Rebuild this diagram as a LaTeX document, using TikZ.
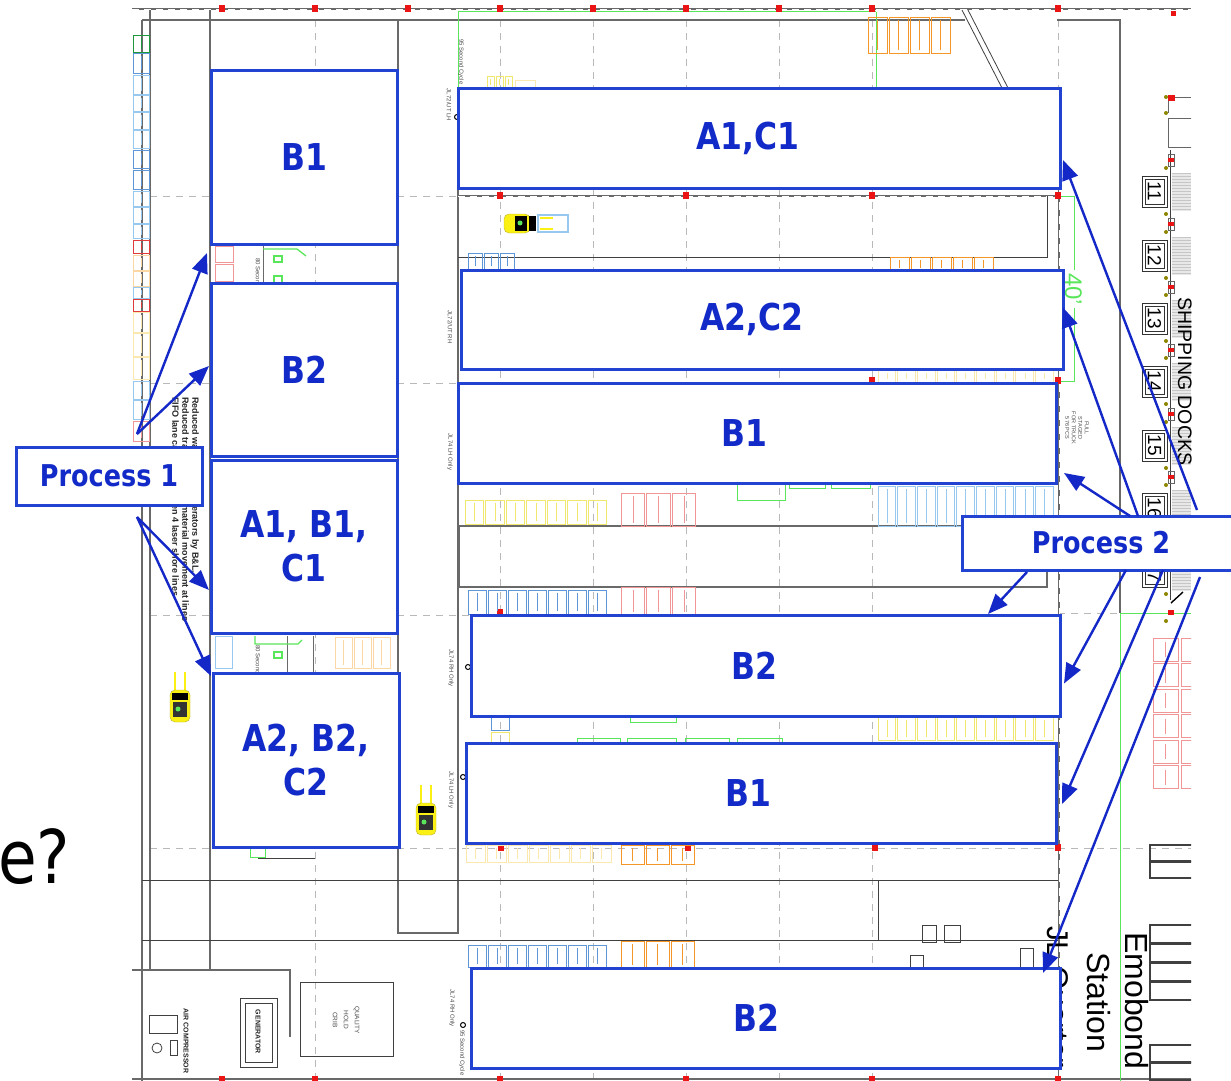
\documentclass[tikz,border=0pt]{standalone}
\usepackage{fontspec}
\setmainfont{Liberation Sans}
\newfontfamily\lab{DejaVu Sans}[FakeStretch=0.85]
\usetikzlibrary{arrows.meta,calc}
\definecolor{boxc}{RGB}{34,66,210}
\definecolor{txtc}{RGB}{18,42,200}
\definecolor{arrc}{RGB}{20,40,200}
\definecolor{pgray}{RGB}{105,105,105}
\definecolor{gridc}{RGB}{185,185,185}
\definecolor{pgreen}{RGB}{90,230,90}
\definecolor{dgreen}{RGB}{30,150,60}
\definecolor{lblue}{RGB}{150,200,240}
\definecolor{mblue}{RGB}{95,150,215}
\definecolor{lyel}{RGB}{240,232,110}
\definecolor{pyel}{RGB}{250,232,175}
\definecolor{lred}{RGB}{240,150,150}
\definecolor{rred}{RGB}{225,60,60}
\definecolor{porange}{RGB}{245,150,40}
\definecolor{lorange}{RGB}{250,215,165}
\definecolor{fyel}{RGB}{250,240,20}
\definecolor{mred}{RGB}{235,20,20}
\newcommand\rackrow[6]{\foreach \ri in {1,...,#6}{%
  \draw[line width=0.9pt,draw=#1] ({#2+(\ri-1)*#4},#3) rectangle ++({#4-2},#5);
  \draw[line width=0.5pt,draw=#1] ({#2+(\ri-1)*#4+#4/2-1},{#3+3}) -- ++(0,{#5-6});}}
\newcommand\forkv[2]{%
  \draw[fyel,line width=1.5pt] ({#1+5},#2) -- ++(0,20) ({#1+15},#2) -- ++(0,20);
  \draw[fill=fyel,draw=yellow!70!black,rounded corners=5pt] ({#1},{#2+18}) rectangle ({#1+20},{#2+50});
  \fill[black] ({#1+2},{#2+21}) rectangle ({#1+18},{#2+28});
  \fill[black!80] ({#1+3},{#2+30}) rectangle ({#1+17},{#2+45});
  \fill[pgreen] ({#1+8},{#2+37}) circle (2.5);}
\begin{document}
\begin{tikzpicture}[x=1pt,y=-1pt,
  zone/.style={draw=boxc,line width=3pt,fill=white,text=txtc,outer sep=0pt,
    font=\lab\bfseries\fontsize{37}{44}\selectfont,align=center,inner sep=0pt},
  proc/.style={zone,font=\lab\bfseries\fontsize{30}{36}\selectfont},
  flow/.style={draw=arrc,line width=2.4pt,-{Triangle[length=20pt,width=16pt]}},
  wall/.style={draw=pgray,line width=1.5pt},
  fine/.style={draw=black!75,line width=0.8pt},
  grd/.style={draw=gridc,line width=1pt,dash pattern=on 7pt off 6pt},
  rk/.style={line width=0.9pt},
  tiny/.style={font=\fontsize{6}{7}\selectfont,text=black!70,inner sep=0pt,rotate=-90},
  smallb/.style={font=\bfseries\fontsize{7}{8}\selectfont,text=black!85,inner sep=0pt,rotate=-90},
  rtext/.style={font=\fontsize{32}{36}\selectfont,inner sep=0pt,rotate=-90,anchor=base west},
]
\useasboundingbox (0,0) rectangle (1231,1081);
\fill[white] (0,0) rectangle (1231,1081);
\begin{scope}
\clip (0,0) rectangle (1191,1081);
% grid
\foreach \y in {196,383,615,848} \draw[grd] (150,\y) -- (1058,\y);
\draw[grd] (1058,613) -- (1191,613);
\draw[grd] (1058,848) -- (1191,848);
\foreach \x in {315,500,593,686,779,872} \draw[grd] (\x,20) -- (\x,1079);
\draw[grd] (1058,20) -- (1058,188);
% top walls
\draw[draw=pgray,line width=2.4pt] (132,9) -- (1191,9);
\draw[draw=white,line width=0.8pt,dash pattern=on 7pt off 5pt] (132,9) -- (1191,9);
\draw[wall] (142,20) -- (965,20);
\draw[wall] (1057,20) -- (1120,20) -- (1120,613);
\draw[fine] (962,10) -- (1002,88);
\draw[fine] (968,10) -- (1008,88);
% left walls
\draw[wall] (142,20) -- (142,1081);
\draw[wall] (150,10) -- (150,970);
\draw[wall] (210,10) -- (210,970);
\draw[wall] (398,20) -- (398,933) -- (458,933) -- (458,188);
\draw[fine] (142,880) -- (1058,880);
\draw[fine] (142,940) -- (1058,940);
\draw[fine] (878,880) -- (878,940);
\draw[draw=pgray,line width=2.6pt] (132,970) -- (290,970) -- (290,1037);
\draw[wall] (132,1079) -- (1191,1079);
% middle structure
\draw[draw=pgray,line width=2.4pt] (458,196) -- (1058,196);
\draw[draw=white,line width=0.8pt,dash pattern=on 7pt off 5pt] (458,196) -- (1058,196);
\draw[fine] (458,257) -- (1047,257) -- (1047,196);
\draw[draw=pgray,line width=1.6pt] (459,526) rectangle (1047,587);
\draw[draw=pgray,line width=2.6pt] (1059,188) -- (1059,1081);
\draw[draw=white,line width=0.8pt,dash pattern=on 8pt off 6pt] (1059,188) -- (1059,1081);
% green lines
\draw[pgreen,line width=1pt] (458,12) -- (876,12);
\draw[pgreen,line width=1pt] (458,12) -- (458,88);
\draw[pgreen,line width=1pt] (876,12) -- (876,88);
\draw[pgreen,line width=1pt] (1058,196) -- (1074,196) -- (1074,270);
\draw[pgreen,line width=1pt] (1074,308) -- (1074,381) -- (1058,381);
\node[font=\fontsize{24}{26}\selectfont,text=pgreen,inner sep=0pt,rotate=-90,anchor=base west] (forty) at (1065,273) {40'};
\draw[pgreen,line width=1pt] (1120,613) -- (1120,1081);
\draw[pgreen,line width=1pt] (1120,613) -- (1191,613);
% red markers
\foreach \x in {222,315,408,500,593,686,779,872,1058} \fill[mred] (\x-3,5) rectangle (\x+3,12);
\fill[mred] (1171,11) rectangle (1176,16);
\foreach \x/\y in {500/196,686/196,872/196,1058/196,872/381,1058/381,501/848,688/848,875/848,500/613,1058/848}
  \fill[mred] (\x-3,\y-4) rectangle (\x+3,\y+3);
\foreach \x in {222,315,500,686,872,1058} \fill[mred] (\x-3,1076) rectangle (\x+3,1081);
% left strip racks
\foreach \ya/\yb/\cc in {35/52/dgreen,53/73/mblue,75/94/lblue,95/111/lblue,112/129/lblue,130/148/lblue,150/168/mblue,170/189/mblue,191/206/lblue,207/223/lblue,224/238/lblue,240/253/rred,255/270/lorange,271/286/lorange,287/298/lblue,299/311/rred,312/332/pyel,333/356/pyel,357/379/pyel,381/399/lblue,400/419/lblue,421/441/lred}
  {\draw[rk,draw=\cc] (133,\ya) rectangle (149,\yb);
   \draw[draw=\cc,line width=0.6pt] (141,{\ya+3}) -- (141,{\yb-3});}
% racks in the plan
\rackrow{porange}{868}{17}{21}{36}{4}
\rackrow{porange}{890}{257}{21}{14}{5}
\rackrow{lyel}{487}{76}{9}{12}{3}
\draw[rk,draw=pyel] (515,80) rectangle (535,88);
\rackrow{mblue}{468}{253}{16}{16}{3}
\rackrow{pyel}{878}{370}{19.7}{12}{9}
\rackrow{lyel}{465}{500}{20.5}{24}{7}
\rackrow{lred}{621}{493}{25.5}{33}{3}
\draw[rk,draw=pgreen] (737,484) rectangle (785,500);
\draw[rk,draw=pgreen] (789,483) rectangle (825,488);
\draw[rk,draw=pgreen] (831,483) rectangle (870,488);
\rackrow{lblue}{878}{486}{19.7}{40}{9}
\rackrow{mblue}{468}{590}{20}{24}{7}
\rackrow{lred}{621}{587}{25.5}{28}{3}
\rackrow{lyel}{878}{717}{19.7}{23}{9}
\draw[rk,draw=pgreen] (630,716) rectangle (676,722);
\foreach \xa/\xb in {577/620,627/676,685/729,737/782} \draw[rk,draw=pgreen] (\xa,738) rectangle (\xb,746);
\draw[rk,draw=mblue] (491,716) rectangle (509,730);
\draw[rk,draw=lyel] (491,732) rectangle (509,742);
\rackrow{pyel}{466}{845}{21}{17}{7}
\rackrow{porange}{621}{845}{25}{19}{3}
\rackrow{mblue}{468}{945}{20}{22}{7}
\rackrow{porange}{621}{941}{25}{27}{3}
\foreach \k in {0,...,5} {
  \draw[rk,draw=lred] (1153,{638+25.5*\k}) rectangle (1178,{661+25.5*\k});
  \draw[rk,draw=lred] (1181,{638+25.5*\k}) rectangle (1206,{661+25.5*\k});
  \draw[draw=lred,line width=0.6pt] (1165,{642+25.5*\k}) -- (1165,{657+25.5*\k});}
% items near the left boxes
\draw[rk,draw=lred] (215,246) rectangle (233,262);
\draw[rk,draw=lred] (215,264) rectangle (233,281);
\draw[draw=pgray,line width=1pt] (263,244) -- (263,283);
\draw[pgreen,line width=1.3pt] (263,249) -- (297,249) -- (306,256);
\draw[pgreen,line width=1.6pt] (274,256) rectangle (282,262);
\draw[pgreen,line width=1.6pt] (274,276) rectangle (282,283);
\draw[rk,draw=lblue] (215,636) rectangle (232,668);
\draw[draw=pgray,line width=1pt] (287,636) -- (287,673);
\draw[draw=pgray,line width=1pt] (313,636) -- (313,673);
\draw[pgreen,line width=1.3pt] (255,636) -- (255,644) -- (298,644) -- (302,640);
\draw[pgreen,line width=1.6pt] (274,652) rectangle (282,658);
\rackrow{lorange}{335}{637}{19}{31}{3}
\draw[pgreen,line width=1pt] (250,848) rectangle (265,857);
\draw[fine] (258,858) -- (315,858);
% small circles
\foreach \x/\y in {457/117,468/667,463/777,463/1025} \draw[black,line width=1pt] (\x,\y) circle (2.5);
% small boxes lower right
\draw[fine,line width=1pt] (922,925) rectangle (936,942);
\draw[fine,line width=1pt] (944,925) rectangle (960,942);
\draw[fine] (910,955) rectangle (923,968);
\draw[fine] (1020,948) rectangle (1033,968);
\foreach \ya in {845,862} \draw[fine,line width=1.3pt] (1150,\ya) rectangle (1196,{\ya+16});
\foreach \ya in {925,944,963,982} \draw[fine,line width=1.3pt] (1150,\ya) rectangle (1196,{\ya+18});
\foreach \ya in {1045,1063} \draw[fine,line width=1.3pt] (1150,\ya) rectangle (1196,{\ya+17});
% docks
\draw[fine] (1170,150) -- (1170,600);
\draw[black!60,line width=0.8pt] (1175,97) -- (1191,97);
\draw[black!60,line width=0.8pt] (1168,97) -- (1168,113);
\fill[mred] (1168,95) rectangle (1175,101);
\draw[black!60,line width=0.8pt] (1168,118) rectangle (1195,147);
\fill[olive] (1166,97) circle (2);
\fill[olive] (1166,113) circle (2);
\foreach \y/\n in {176/11,240/12,303/13,366/14,430/15,493/16,556/17} {
  \fill[gray!18] (1172,{\y-3}) rectangle (1191,{\y+35});
  \foreach \h in {0,3,...,36} \draw[gray!45,line width=0.4pt] (1172,{\y-3+\h}) -- (1191,{\y-3+\h});
  \draw[black!80,line width=1pt] (1142,\y) rectangle (1167,{\y+31});
  \draw[black!80,line width=0.8pt] (1145,{\y+3}) rectangle (1164,{\y+28});
  \node[rotate=-90,font=\fontsize{19}{20}\selectfont,inner sep=0pt] (dock\n) at (1154.5,{\y+15.5}) {\n};
  \fill[olive] (1166,{\y-8}) circle (2);
  \fill[olive] (1166,{\y+38}) circle (2);
  \draw[black!60,line width=0.8pt] (1168,{\y-22}) rectangle (1174,{\y-10});
  \fill[mred] (1168,{\y-18}) rectangle (1174,{\y-14});}
\draw[black,line width=1.4pt] (1171,603) -- (1183,592);
\fill[mred] (1168,610) rectangle (1174,615);
\fill[olive] (1166,621) circle (2);
\node[font=\fontsize{19.5}{21}\selectfont,inner sep=0pt,rotate=-90,anchor=base west] (ship) at (1178,297) {SHIPPING DOCKS};
% bottom left rooms
\draw[fine] (149,1015) rectangle (177,1033);
\draw[fine] (157,1048) circle (5);
\draw[fine] (170,1040) rectangle (177,1055);
\node[smallb] (aircomp) at (186,1041) {AIR COMPRESSOR};
\draw[fine] (240,998) rectangle (277,1067);
\draw[fine,line width=1pt] (245,1003) rectangle (272,1062);
\node[smallb] (gen) at (258,1032) {GENERATOR};
\draw[fine] (300,982) rectangle (393,1056);
\node[tiny,align=center,font=\fontsize{6.5}{11}\selectfont] (crib) at (346,1020) {QUALITY\\HOLD\\CRIB};
% forklifts
\draw[fill=fyel,draw=yellow!70!black,rounded corners=5pt] (504,214) rectangle (530,233);
\fill[black] (515,216) rectangle (527,231);
\fill[pgreen] (520,223) circle (2.5);
\fill[black] (529,216) rectangle (536,231);
\draw[lblue,line width=1.2pt] (538,215) rectangle (568,232);
\fill[fyel] (540,217) rectangle (553,219);
\fill[fyel] (540,228) rectangle (553,230);
\forkv{170}{672}
\forkv{416}{785}
% small plan labels
\node[tiny] (l1) at (461,62) {95 Second Cycle};
\node[tiny] (l2) at (449,105) {JL72/UT LH};
\node[tiny] (l3) at (450,327) {JL72/UT RH};
\node[tiny] (l4) at (450,452) {JL74 LH Only};
\node[tiny] (l5) at (451,668) {JL74 RH Only};
\node[tiny] (l6) at (451,790) {JL74 LH Only};
\node[tiny] (l7) at (452,1008) {JL74 RH Only};
\node[tiny,anchor=west] (l8) at (462,1030) {95 Second Cycle};
\node[tiny,anchor=west] (l9) at (258,258) {80 Second};
\node[tiny,anchor=west] (l10) at (258,645) {80 Second};
\node[tiny,align=center,font=\fontsize{5.5}{6.5}\selectfont] (full) at (1077,428) {FULL\\STAGED\\FOR TRUCK\\576 PCS};
\node[rotate=-90,anchor=north west,align=left,inner sep=0pt,font=\bfseries\fontsize{9}{10}\selectfont,text=black!85] (notes) at (199,397)
  {Reduced walk time for operators by B\&L.\\Reduced travel for direct material movement at lines\\FIFO lane capacity between 4 laser shore lines};
\node[rtext,font=\fontsize{30}{34}\selectfont] (jlq) at (1047,926) {JL Quarter};
\node[rtext] (stat) at (1087,952) {Station};
\node[rtext] (emob) at (1125,932) {Emobond};
\end{scope}
% zone boxes
\node[zone,minimum width=186pt,minimum height=173pt] (b1l) at (304,157.5) {B1};
\node[zone,minimum width=186pt,minimum height=173pt] (b2l) at (304,369.5) {B2};
\node[zone,minimum width=186pt,minimum height=173pt] (abc1) at (304,546.5) {A1, B1,\\C1};
\node[zone,minimum width=186pt,minimum height=174pt] (abc2) at (306,760) {A2, B2,\\C2};
\node[proc,minimum width=186pt,minimum height=58pt] (p1) at (109,476) {Process 1};
\node[zone,minimum width=602pt,minimum height=100pt] (ac1) at (759,138) {A1,C1\hspace*{22pt}};
\node[zone,minimum width=602pt,minimum height=99pt] (ac2) at (762,319.5) {A2,C2\hspace*{20pt}};
\node[zone,minimum width=598pt,minimum height=100pt] (b1m) at (757,433) {B1\hspace*{26pt}};
\node[zone,minimum width=589pt,minimum height=101pt] (b2m) at (765.5,665.5) {B2\hspace*{22pt}};
\node[zone,minimum width=590pt,minimum height=100pt] (b1n) at (761,793) {B1\hspace*{26pt}};
\node[zone,minimum width=589pt,minimum height=100pt] (b2n) at (765.5,1018) {B2\hspace*{18pt}};
\node[proc,minimum width=288pt,minimum height=54pt] (p2) at (1106,543) {Process 2\hspace*{10pt}};
% connectors
\draw[flow] ($(p1.north west)+(121,-13)$) -- ($(b1l.south west)+(-4,9)$);
\draw[flow] ($(p1.north west)+(121,-13)$) -- ($(b2l.west)+(-2,-3.5)$);
\draw[flow] ($(p1.south west)+(121,12)$) -- ($(abc1.south west)+(-2,-43)$);
\draw[flow] ($(p1.south west)+(121,12)$) -- ($(abc2.north west)+(-2,3)$);
\draw[flow] ($(p2.north west)+(235,-6)$) -- ($(ac1.east)+(3,22)$);
\draw[flow] ($(p2.north west)+(176,0)$) -- ($(ac2.east)+(0,-12)$);
\draw[flow] ($(p2.north west)+(168,0)$) -- ($(b1m.south east)+(8,-10)$);
\draw[flow] ($(p2.south west)+(65,2)$) -- ($(b2m.north east)+(-72,-1)$);
\draw[flow] ($(p2.south west)+(164,0)$) -- ($(b2m.east)+(4,18)$);
\draw[flow] ($(p2.south west)+(201,0)$) -- ($(b1n.east)+(6,11)$);
\draw[flow] ($(p2.south west)+(238,7)$) -- ($(b2n.north east)+(-17,5)$);
% slide text at the left
\node[font=\lab\fontsize{74}{80}\selectfont,anchor=base west,inner sep=0pt] (qm) at (-2,883) {e?};
\end{tikzpicture}
\end{document}
